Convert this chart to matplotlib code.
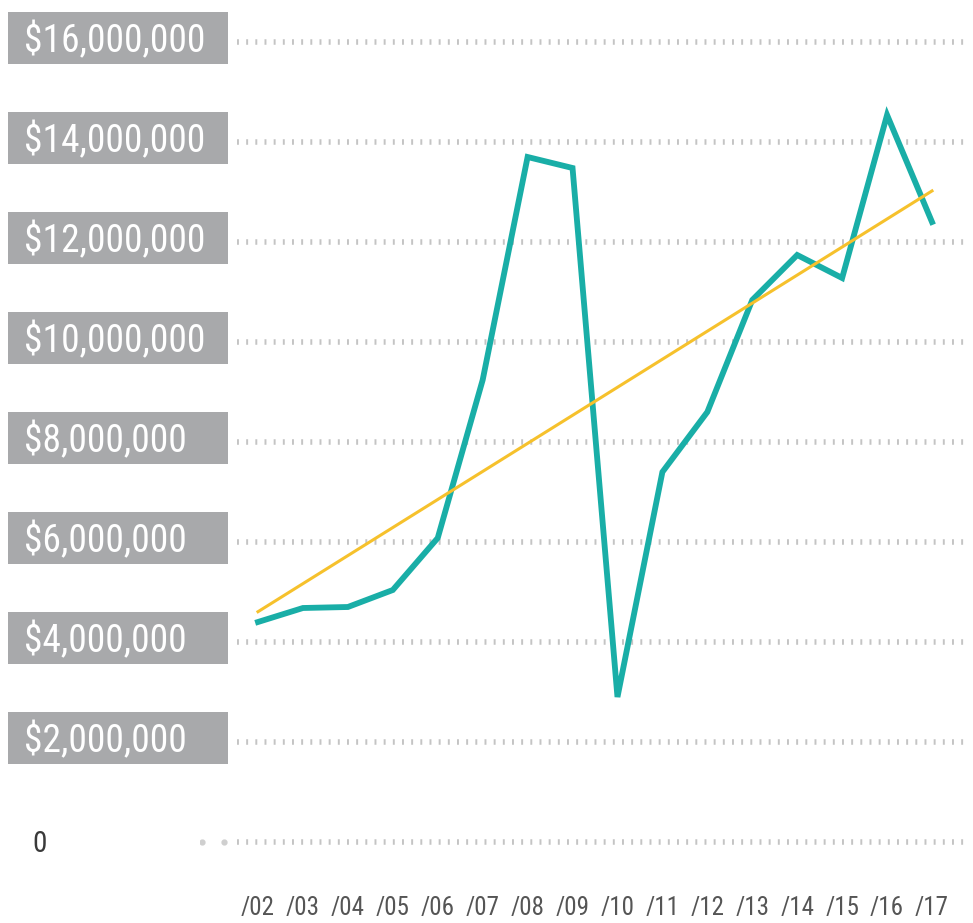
import matplotlib
matplotlib.use("Agg")
import matplotlib.pyplot as plt
import matplotlib.transforms as mtransforms
from matplotlib.patches import Rectangle
import numpy as np

plt.rcParams['font.family'] = ['Roboto Condensed', 'Roboto', 'DejaVu Sans']
plt.rcParams['lines.scale_dashes'] = False

# data (values in $ millions)
years = ['/02', '/03', '/04', '/05', '/06', '/07', '/08', '/09',
         '/10', '/11', '/12', '/13', '/14', '/15', '/16', '/17']
values = [4.40, 4.68, 4.70, 5.04, 6.08, 9.24, 13.70, 13.48,
          2.90, 7.40, 8.60, 10.84, 11.74, 11.28, 14.54, 12.40]
ticks = [0, 2, 4, 6, 8, 10, 12, 14, 16]
tick_labels = ['0', '$2,000,000', '$4,000,000', '$6,000,000', '$8,000,000',
               '$10,000,000', '$12,000,000', '$14,000,000', '$16,000,000']

W, H = 973, 923
fig = plt.figure(figsize=(W / 100, H / 100), dpi=100)
ax = fig.add_axes([200 / W, 0, 773 / W, 1])

x = np.arange(len(years))
ax.set_xlim(-58 / 44.93, 15 + 41 / 44.93)
ax.set_ylim(-81 / 50, 842 / 50)
ax.axis('off')

# dotted gridlines
gx0 = -1.29 + 37 / 44.93
for t in ticks:
    ax.plot([gx0, ax.get_xlim()[1] - 5 / 44.93], [t, t], color='#c4c4c4',
            lw=4, dashes=(1.4, 5.2), solid_capstyle='butt', dash_capstyle='butt')
ax.plot([-1.29 + 2 / 44.93, -1.29 + 24 / 44.93], [0, 0], 'o', color='#cfcfcf', ms=3.5)

# trend line (least squares fit)
k, b = np.polyfit(x, values, 1)
ax.plot(x, values, color='#19aea7', lw=4.2, solid_joinstyle='miter', zorder=3)
ax.plot(x, k * x + b, color='#f6c12c', lw=2.2, zorder=4)

# y labels in gray boxes
tr = mtransforms.blended_transform_factory(fig.transFigure, ax.transData)
for t, lab in zip(ticks, tick_labels):
    if t == 0:
        ax.text(32 / W, t - 0.05, lab, transform=tr, ha='left', va='center',
                fontsize=21, color='#3a3a3a', clip_on=False)
        continue
    ax.add_patch(Rectangle((8 / W, t - 0.44), 220 / W, 1.04, transform=tr,
                           facecolor='#a8a9ab', edgecolor='none', clip_on=False))
    ax.text(24 / W, t + 0.02, lab, transform=tr, ha='left', va='center',
            fontsize=27, color='white', clip_on=False)

# x labels
for xi, lab in zip(x, years):
    ax.text(xi, -1.32, lab, ha='center', va='center', fontsize=18,
            color='#555555', clip_on=False)

fig.savefig('out.png', dpi=100)
